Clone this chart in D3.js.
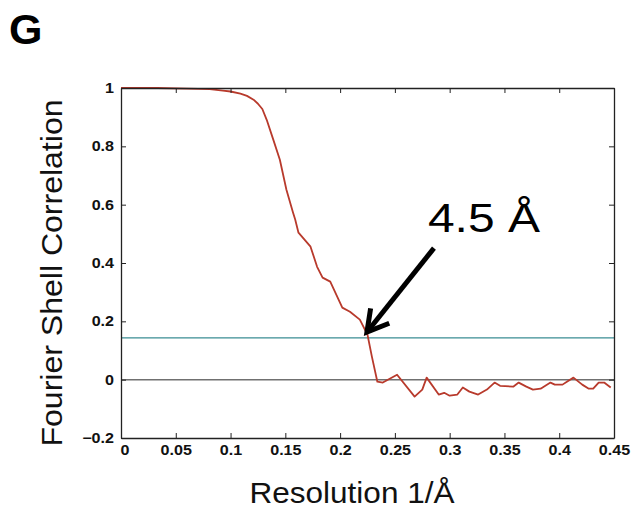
<!DOCTYPE html>
<html>
<head>
<meta charset="utf-8">
<script src="https://cdn.jsdelivr.net/npm/d3@7"></script>
<style>
  body { margin: 0; background: #fff; }
  svg { display: block; }
</style>
</head>
<body>
<div id="chart"></div>
<script>
// FSC curve
var resolution = [0, 0.033, 0.060, 0.081, 0.093, 0.100, 0.109, 0.115, 0.121, 0.125, 0.129, 0.133,
    0.139, 0.145, 0.151, 0.157, 0.159, 0.162, 0.173, 0.179, 0.184, 0.191, 0.202, 0.209, 0.218,
    0.225, 0.229, 0.234, 0.239, 0.252, 0.268, 0.275, 0.279, 0.290, 0.295, 0.300, 0.307, 0.312,
    0.318, 0.326, 0.334, 0.341, 0.346, 0.358, 0.363, 0.370, 0.376, 0.383, 0.392, 0.396, 0.403,
    0.407, 0.413, 0.421, 0.427, 0.431, 0.436, 0.441, 0.447];
var fsc = [1.0, 1.0, 0.998, 0.996, 0.991, 0.988, 0.981, 0.973, 0.960, 0.946, 0.928, 0.891,
    0.823, 0.754, 0.651, 0.573, 0.549, 0.504, 0.456, 0.387, 0.350, 0.336, 0.247, 0.233, 0.206,
    0.154, 0.079, -0.007, -0.010, 0.017, -0.058, -0.034, 0.007, -0.051, -0.045, -0.055, -0.051, -0.027,
    -0.041, -0.051, -0.034, -0.010, -0.021, -0.024, -0.010, -0.024, -0.034, -0.031, -0.010, -0.017, -0.017,
    -0.007, 0.007, -0.017, -0.031, -0.031, -0.010, -0.010, -0.027];

var xTicks = [0, 0.05, 0.1, 0.15, 0.2, 0.25, 0.3, 0.35, 0.4, 0.45];
var yTicks = [-0.2, 0, 0.2, 0.4, 0.6, 0.8, 1];
var threshold = 0.143;
var cutoff = { res: 0.2245, fsc: 0.163, label: "4.5 Å" };

var W = 633, H = 510;
var margin = { top: 88, right: 19, bottom: 72, left: 121 };
var width = W - margin.left - margin.right,
    height = H - margin.top - margin.bottom;

var font = '"Liberation Sans", Arial, Helvetica, sans-serif';
var stretch = 1.15; // the figure's type is a little wider than Arial

var svg = d3.select("#chart").append("svg")
    .attr("width", W)
    .attr("height", H);

var x = d3.scaleLinear().domain([0, 0.45]).range([0, width]);
var y = d3.scaleLinear().domain([-0.2, 1]).range([height, 0]);

var g = svg.append("g")
    .attr("transform", "translate(" + margin.left + "," + margin.top + ")");

// reference lines
g.append("line")
    .attr("x1", 0).attr("x2", width)
    .attr("y1", y(threshold)).attr("y2", y(threshold))
    .style("stroke", "#3a8d93").style("stroke-width", 1.2);

g.append("line")
    .attr("x1", 0).attr("x2", width)
    .attr("y1", y(0)).attr("y2", y(0))
    .style("stroke", "#707070").style("stroke-width", 1.5);

// curve
var pts = resolution.map(function (d, i) { return [d, fsc[i]]; });
g.append("path")
    .datum(pts)
    .attr("d", d3.line()
        .x(function (d) { return x(d[0]); })
        .y(function (d) { return y(d[1]); }))
    .style("fill", "none")
    .style("stroke", "#b83a2c")
    .style("stroke-width", 1.8)
    .style("stroke-linejoin", "round");

// axes (ticks inward, box all round)
var fmt = function (d) { return d3.format("")(+d.toFixed(2)); };

var xAxis = g.append("g")
    .attr("class", "axis axis--x")
    .attr("transform", "translate(0," + height + ")")
    .call(d3.axisBottom(x).tickValues(xTicks).tickSizeInner(-5).tickSizeOuter(0).tickPadding(9).tickFormat(fmt));
var xAxisTop = g.append("g")
    .call(d3.axisTop(x).tickValues(xTicks).tickSizeInner(-5).tickSizeOuter(0).tickFormat(""));
var yAxis = g.append("g")
    .attr("class", "axis axis--y")
    .call(d3.axisLeft(y).tickValues(yTicks).tickSizeInner(-5).tickSizeOuter(0).tickPadding(7).tickFormat(fmt));
var yAxisRight = g.append("g")
    .attr("transform", "translate(" + width + ",0)")
    .call(d3.axisRight(y).tickValues(yTicks).tickSizeInner(-5).tickSizeOuter(0).tickFormat(""));

svg.selectAll(".domain").style("stroke", "#222").style("stroke-width", 1.3);
svg.selectAll(".tick line").style("stroke", "#222");
svg.selectAll(".tick text")
    .style("font", 'bold 14px ' + font)
    .style("fill", "#111")
    .each(function () {
        var t = d3.select(this);
        t.attr("textLength", this.getComputedTextLength() * stretch)
            .attr("lengthAdjust", "spacingAndGlyphs");
    });
xAxis.selectAll(".tick text").attr("dy", "0.6em");
// first x label sits just right of the corner, as in the figure
xAxis.selectAll(".tick text").filter(function (d) { return d === 0; }).attr("dx", "0.25em");

// axis titles
svg.append("text")
    .attr("transform", "translate(" + 62 + "," + 273 + ") rotate(-90)")
    .style("text-anchor", "middle")
    .style("font", '30px ' + font)
    .style("fill", "#111")
    .attr("textLength", 347)
    .attr("lengthAdjust", "spacingAndGlyphs")
    .text("Fourier Shell Correlation");

svg.append("text")
    .attr("x", 352)
    .attr("y", 503)
    .style("text-anchor", "middle")
    .style("font", '29px ' + font)
    .style("fill", "#111")
    .attr("textLength", 205)
    .attr("lengthAdjust", "spacingAndGlyphs")
    .text("Resolution 1/Å");

// panel letter
svg.append("text")
    .attr("x", 9)
    .attr("y", 44)
    .style("font", 'bold 43px ' + font)
    .style("fill", "#000")
    .text("G");

// annotation arrow
var tipX = x(cutoff.res), tipY = y(cutoff.fsc);
var tail = [tipX + 67, tipY - 84];
var ang = Math.atan2(tipY - tail[1], tipX - tail[0]);
var headLen = 24, spread = 0.52;
g.append("line")
    .attr("x1", tail[0]).attr("y1", tail[1])
    .attr("x2", tipX + 3 * Math.cos(ang + Math.PI)).attr("y2", tipY + 3 * Math.sin(ang + Math.PI))
    .style("stroke", "#000").style("stroke-width", 5);
g.append("path")
    .attr("d", "M" + (tipX - headLen * Math.cos(ang - spread)) + "," + (tipY - headLen * Math.sin(ang - spread)) +
        "L" + tipX + "," + tipY +
        "L" + (tipX - headLen * Math.cos(ang + spread)) + "," + (tipY - headLen * Math.sin(ang + spread)))
    .style("fill", "none")
    .style("stroke", "#000")
    .style("stroke-width", 5)
    .style("stroke-linejoin", "miter");

g.append("text")
    .attr("x", tipX + 61)
    .attr("y", tipY - 100)
    .style("font", '40px ' + font)
    .style("fill", "#000")
    .attr("textLength", 112)
    .attr("lengthAdjust", "spacingAndGlyphs")
    .text(cutoff.label);
</script>
</body>
</html>
